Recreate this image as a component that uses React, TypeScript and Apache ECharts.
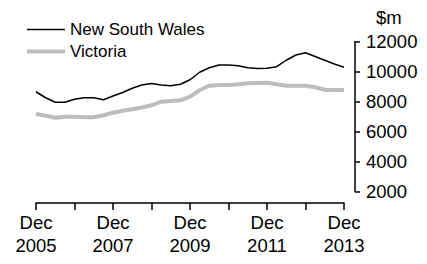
import React, { useEffect, useRef } from "react";
import * as echarts from "echarts";

const years = [2005, 2006, 2007, 2008, 2009, 2010, 2011, 2012, 2013];
const quarterMonths = ["Dec", "Mar", "Jun", "Sep"];
const categories: string[] = [];
for (let i = 0; i <= 32; i++) {
  const m = quarterMonths[i % 4];
  const y = years[0] + Math.ceil(i / 4);
  categories.push(m + " " + (i % 4 === 0 ? years[0] + i / 4 : y));
}

const nswValues = [
  8650, 8250, 7950, 7950, 8150, 8250, 8250, 8120, 8370, 8600, 8880, 9100, 9200,
  9100, 9050, 9150, 9450, 9950, 10250, 10430, 10430, 10380, 10250, 10200, 10210,
  10320, 10750, 11100, 11250, 11000, 10750, 10500, 10280,
];
const vicValues = [
  7170, 7050, 6920, 6980, 6990, 6950, 6950, 7080, 7250, 7380, 7480, 7600, 7750,
  7990, 8030, 8080, 8320, 8750, 9050, 9100, 9100, 9150, 9210, 9230, 9250, 9150,
  9050, 9050, 9050, 8950, 8780, 8760, 8770,
];
const yTicks = { min: 2000, max: 12000, interval: 2000 };
const unitLabel = "$m";

const FONT = "'Liberation Sans', Arial, sans-serif";
const FS = 17;
const AFS = 18.5;
const NSW_COLOR = "#000";
const VIC_COLOR = "#bdbdbd";

export default function App() {
  const ref = useRef<HTMLDivElement>(null);
  useEffect(() => {
    if (!ref.current) return;
    const chart = echarts.init(ref.current, undefined, { renderer: "svg" });
    chart.setOption({
      animation: false,
      textStyle: { fontFamily: FONT, fontSize: FS, color: "#000" },
      grid: { left: 36, right: 83, top: 41.5, bottom: 72.5 },
      legend: {
        orient: "vertical",
        left: 27,
        top: 21,
        padding: 0,
        itemWidth: 38,
        itemHeight: 14,
        itemGap: 5,
        textStyle: { fontFamily: FONT, fontSize: FS, color: "#000" },
        data: [
          {
            name: "New South Wales",
            icon: "path://M0,0H38V1.6H0Z",
            itemStyle: { color: NSW_COLOR },
          },
          {
            name: "Victoria",
            icon: "path://M0,0H38V4H0Z",
            itemStyle: { color: VIC_COLOR },
          },
        ],
      },
      graphic: [
        {
          type: "text",
          left: 376,
          top: 8,
          style: { text: unitLabel, font: `${AFS}px ${FONT}`, fill: "#000" },
        },
      ],
      xAxis: {
        type: "category",
        data: categories,
        boundaryGap: false,
        offset: 11.5,
        axisLine: { lineStyle: { color: "#000", width: 1.5 } },
        axisTick: { interval: 3, length: 7, lineStyle: { color: "#000", width: 1.5 } },
        axisLabel: {
          interval: 7,
          margin: 8,
          lineHeight: 23,
          fontFamily: FONT,
          fontSize: AFS,
          color: "#000",
          formatter: (v: string) => v.replace(" ", "\n"),
        },
        splitLine: { show: false },
      },
      yAxis: {
        type: "value",
        position: "right",
        offset: 11,
        min: yTicks.min,
        max: yTicks.max,
        interval: yTicks.interval,
        axisLine: { show: true, lineStyle: { color: "#000", width: 1.5 } },
        axisTick: { show: true, length: 5, lineStyle: { color: "#000", width: 1.5 } },
        axisLabel: {
          margin: 11,
          fontFamily: FONT,
          fontSize: AFS,
          color: "#000",
          formatter: (v: number) => String(v),
        },
        splitLine: { show: false },
      },
      series: [
        {
          name: "New South Wales",
          type: "line",
          data: nswValues,
          symbol: "none",
          lineStyle: { color: NSW_COLOR, width: 1.5 },
          itemStyle: { color: NSW_COLOR },
          z: 3,
        },
        {
          name: "Victoria",
          type: "line",
          data: vicValues,
          symbol: "none",
          lineStyle: { color: VIC_COLOR, width: 4 },
          itemStyle: { color: VIC_COLOR },
          z: 2,
        },
      ],
    });
    return () => chart.dispose();
  }, []);
  return (
    <div
      ref={ref}
      style={{ position: "fixed", left: 0, top: 0, width: 427, height: 264, background: "#fff" }}
    />
  );
}
